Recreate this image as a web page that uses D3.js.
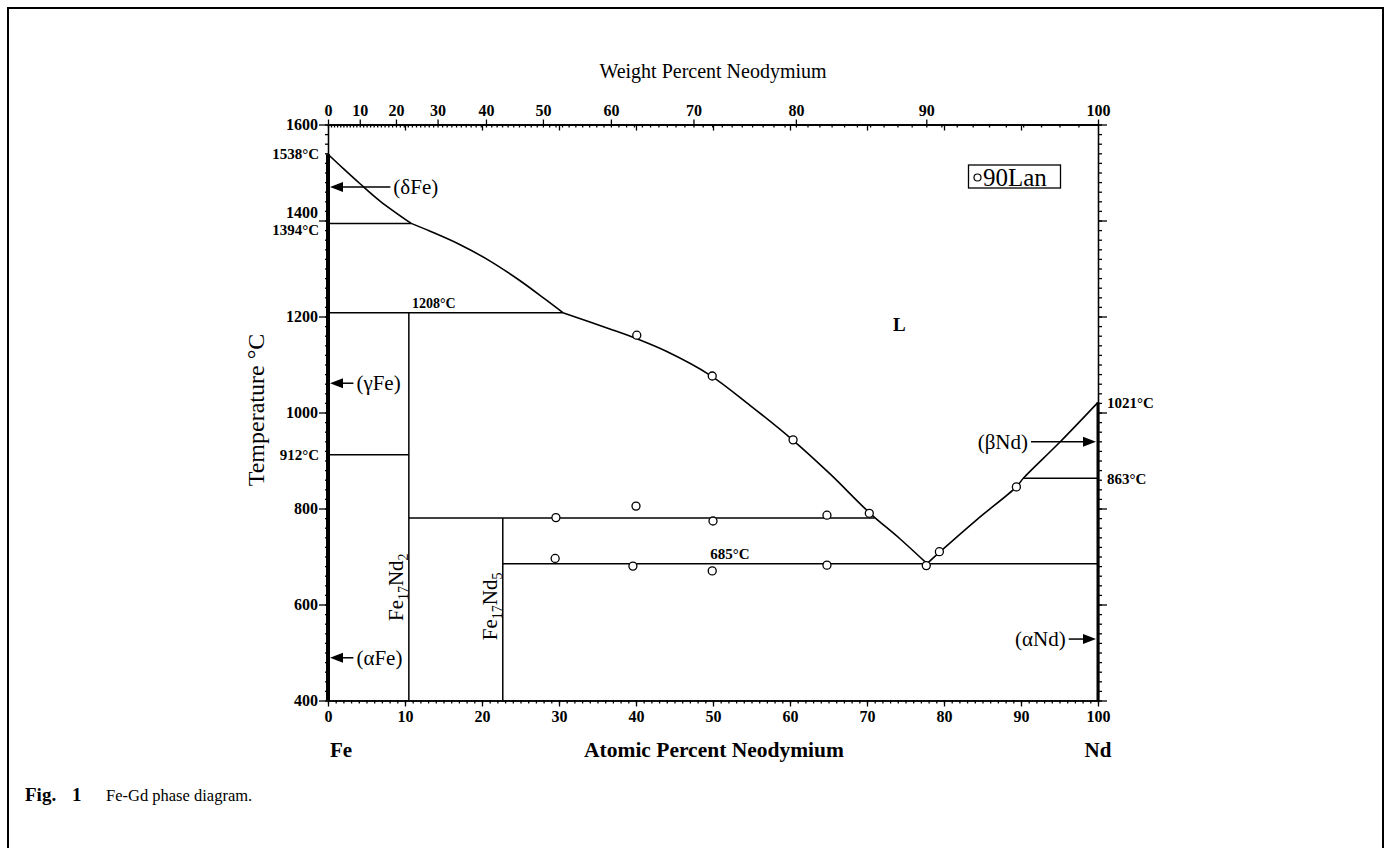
<!DOCTYPE html>
<html>
<head>
<meta charset="utf-8">
<script src="https://cdn.jsdelivr.net/npm/d3@7"></script>
<style>
  body { margin: 0; background: #fff; }
  text { font-family: "Liberation Serif", "Times New Roman", serif; fill: #000; }
</style>
</head>
<body>
<svg id="chart" width="1390" height="848"></svg>
<script>
// Fe-Nd phase diagram (at% Nd, deg C)

const deltaLiquidus = [[0, 1538], [2.0, 1508], [4.2, 1476], [6.8, 1440], [10.8, 1394]];
const gammaLiquidus = [[10.8, 1394], [13.2, 1378], [17.1, 1350], [21.0, 1316], [24.9, 1275], [28.2, 1236], [30.5, 1208]];
const feRichLiquidus = [[30.5, 1208], [36.6, 1174], [40.2, 1153], [44.0, 1127], [49.6, 1078], [54.8, 1015],
                        [60.4, 942], [65.2, 872], [70.4, 790], [74.2, 738], [77.8, 685]];
const ndRichLiquidus = [[77.8, 685], [79.5, 710], [84.2, 776], [89.4, 845], [90.3, 863], [95.1, 939], [100, 1021]];

// invariant (horizontal) lines
const isoFrom = [0, 0, 0, 10.5, 22.7, 90.3];
const isoTo   = [10.8, 30.5, 10.5, 71.0, 100, 100];
const isoTemp = [1394, 1208, 912, 780, 685, 863];

// compounds Fe17Nd2 and Fe17Nd5
const compAt = [10.5, 22.7];
const compTop = [1208, 780];
const compSub = [["17", "2"], ["17", "5"]];

// 90Lan data points
const lanAt = [29.6, 40.0, 50.0, 64.8, 70.3, 29.5, 39.6, 49.9, 64.8, 40.1, 49.9, 60.4, 89.4, 79.4, 77.7];
const lanT  = [781, 805, 774, 786, 790, 696, 680, 670, 682, 1161, 1076, 943, 845, 710, 681];

// phase labels on the pure-element sides
const feLabels = ["(δFe)", "(γFe)", "(αFe)"];
const feTemps = [1470, 1061, 489];
const ndLabels = ["(βNd)", "(αNd)"];
const ndTemps = [939, 528];

// axis ticks
const atTicks = d3.range(0, 101, 10);
const wtTicks = d3.range(0, 101, 10);
const tempTicks = d3.range(400, 1601, 200);

const FE = 55.845, ND = 144.24;
function wtToAt(w) {
    if (w >= 100) return 100;
    var n = w / ND, f = (100 - w) / FE;
    return 100 * n / (n + f);
}

const svg = d3.select("#chart");

var x = d3.scaleLinear().domain([0, 100]).range([328, 1098]);
var y = d3.scaleLinear().domain([400, 1600]).range([700.5, 124.5]);

// figure border
svg.append("path")
    .attr("d", "M8,860V8H1383V860")
    .attr("fill", "none")
    .attr("stroke", "black")
    .attr("stroke-width", 2);

// ---- axes ----
function styleAxis(g) {
    g.attr("font-size", 16).attr("font-family", '"Liberation Serif", serif').attr("font-weight", "bold");
    g.selectAll("path,line").attr("stroke", "black").attr("stroke-width", 1.3);
    g.selectAll("text").attr("fill", "black");
}

// bottom
svg.append("g")
    .attr("transform", "translate(0," + y(400) + ")")
    .call(d3.axisBottom(x).tickValues(d3.range(0, 101, 1)).tickSize(3).tickSizeOuter(0).tickFormat(""))
    .call(styleAxis);
svg.append("g")
    .attr("transform", "translate(0," + y(400) + ")")
    .call(d3.axisBottom(x).tickValues(atTicks).tickSize(6).tickSizeOuter(0).tickPadding(4))
    .call(styleAxis);

// top (weight percent)
svg.append("g")
    .attr("transform", "translate(0," + y(1600) + ")")
    .call(d3.axisTop(x).tickValues(wtTicks.map(wtToAt)).tickSize(5).tickSizeOuter(0).tickPadding(4)
        .tickFormat((d, i) => wtTicks[i]))
    .call(styleAxis);
svg.append("g")
    .attr("transform", "translate(0," + y(1600) + ")")
    .call(d3.axisBottom(x).tickValues(d3.range(0, 100, 1).map(wtToAt)).tickSize(3).tickSizeOuter(0).tickFormat(""))
    .call(styleAxis);
svg.append("g")
    .attr("transform", "translate(0," + y(1600) + ")")
    .call(d3.axisBottom(x).tickValues(atTicks.slice(1, 10)).tickSize(6).tickSizeOuter(0).tickFormat(""))
    .call(styleAxis);

// left
svg.append("g")
    .attr("transform", "translate(" + x(0) + ",0)")
    .call(d3.axisLeft(y).tickValues(d3.range(400, 1601, 20)).tickSize(3).tickSizeOuter(0).tickFormat(""))
    .call(styleAxis);
svg.append("g")
    .attr("transform", "translate(" + x(0) + ",0)")
    .call(d3.axisLeft(y).tickValues(tempTicks).tickSize(9).tickSizeOuter(0).tickPadding(1).tickFormat(d3.format("d")))
    .call(styleAxis)
    .call(g => g.selectAll(".tick text").filter(d => d == 1400).attr("dy", "-0.2em"));

// right
svg.append("g")
    .attr("transform", "translate(" + x(100) + ",0)")
    .call(d3.axisRight(y).tickValues(d3.range(400, 1601, 20)).tickSize(4).tickSizeOuter(0).tickFormat(""))
    .call(styleAxis);
svg.append("g")
    .attr("transform", "translate(" + x(100) + ",0)")
    .call(d3.axisRight(y).tickValues(tempTicks).tickSize(9).tickSizeOuter(0).tickFormat(""))
    .call(styleAxis);

// axis titles
svg.append("text").attr("x", 713).attr("y", 78).attr("text-anchor", "middle")
    .style("font-size", "20px").text("Weight Percent Neodymium");
svg.append("text").attr("x", 714).attr("y", 757).attr("text-anchor", "middle")
    .style("font-size", "21.5px").style("font-weight", "bold").text("Atomic Percent Neodymium");
svg.append("text").attr("x", x(0) + 13).attr("y", 757).attr("text-anchor", "middle")
    .style("font-size", "21px").style("font-weight", "bold").text("Fe");
svg.append("text").attr("x", x(100)).attr("y", 757).attr("text-anchor", "middle")
    .style("font-size", "21px").style("font-weight", "bold").text("Nd");
svg.append("text").attr("transform", "translate(264,410) rotate(-90)").attr("text-anchor", "middle")
    .style("font-size", "24px").text("Temperature °C");

// caption
var cap = svg.append("text").attr("x", 25).attr("y", 801).style("font-size", "16.5px");
cap.append("tspan").style("font-weight", "bold").style("font-size", "19px").text("Fig.");
cap.append("tspan").attr("x", 72).style("font-weight", "bold").style("font-size", "19px").text("1");
cap.append("tspan").attr("x", 106).text("Fe-Gd phase diagram.");

// ---- phase boundaries ----
var line = d3.line().x(d => x(d[0])).y(d => y(d[1])).curve(d3.curveCatmullRom);
var plot = svg.append("g");

[deltaLiquidus, gammaLiquidus, feRichLiquidus, ndRichLiquidus].forEach(function(seg) {
    plot.append("path").datum(seg).attr("d", line)
        .attr("fill", "none").attr("stroke", "black").attr("stroke-width", 1.6);
});

plot.selectAll("isotherms")
    .data(isoTemp)
    .enter()
    .append("line")
    .attr("x1", (d, i) => x(isoFrom[i]))
    .attr("x2", (d, i) => x(isoTo[i]))
    .attr("y1", d => y(d))
    .attr("y2", d => y(d))
    .attr("stroke", "black")
    .attr("stroke-width", 1.5);

plot.selectAll("compLines")
    .data(compAt)
    .enter()
    .append("line")
    .attr("x1", d => x(d))
    .attr("x2", d => x(d))
    .attr("y1", (d, i) => y(compTop[i]))
    .attr("y2", y(400))
    .attr("stroke", "black")
    .attr("stroke-width", 1.5);

// terminal solid solutions along the element axes
plot.append("line")
    .attr("x1", x(0)).attr("x2", x(0)).attr("y1", y(1538)).attr("y2", y(400))
    .attr("stroke", "black").attr("stroke-width", 4);
plot.append("line")
    .attr("x1", x(100)).attr("x2", x(100)).attr("y1", y(1021)).attr("y2", y(400))
    .attr("stroke", "black").attr("stroke-width", 3);

// compound labels, rotated
var compLabelT = [636, 596];
compAt.forEach(function(a, i) {
    var t = plot.append("text")
        .attr("transform", "translate(" + (x(a) - 6) + "," + y(compLabelT[i]) + ") rotate(-90)")
        .attr("text-anchor", "middle")
        .style("font-size", "21px");
    t.append("tspan").text("Fe");
    t.append("tspan").attr("dy", 5).style("font-size", "14px").text(compSub[i][0]);
    t.append("tspan").attr("dy", -5).text("Nd");
    t.append("tspan").attr("dy", 5).style("font-size", "14px").text(compSub[i][1]);
});

// temperature annotations
function note(txt, px, py, anchor, size) {
    plot.append("text").attr("x", px).attr("y", py).attr("text-anchor", anchor || "start")
        .style("font-size", (size || 15) + "px").style("font-weight", "bold").text(txt);
}
note("1538°C", x(0) - 9, y(1538) + 5, "end");
note("1394°C", x(0) - 9, y(1394) + 12, "end");
note("912°C", x(0) - 9, y(912) + 5, "end");
note("1021°C", x(100) + 9, y(1021) + 6, "start");
note("863°C", x(100) + 9, y(863) + 6, "start");
note("1208°C", x(10.9), y(1208) - 5, "start", 14);
note("685°C", x(52.2), y(685) - 5, "middle", 15);
note("L", x(74.2), y(1170), "middle", 19);

// arrows to the element axes
function arrow(x1, x2, py) {
    var dir = x2 > x1 ? 1 : -1;
    plot.append("line").attr("x1", x1).attr("x2", x2 - dir * 10).attr("y1", py).attr("y2", py)
        .attr("stroke", "black").attr("stroke-width", 1.5);
    plot.append("path")
        .attr("d", "M" + x2 + "," + py + "L" + (x2 - dir * 13) + "," + (py - 5) + "L" + (x2 - dir * 13) + "," + (py + 5) + "Z")
        .attr("fill", "black");
}
var feArrowEnd = [x(8.1), x(3.3), x(3.3)];
feLabels.forEach(function(lbl, i) {
    arrow(feArrowEnd[i], x(0) + 2, y(feTemps[i]));
    plot.append("text").attr("x", feArrowEnd[i] + 3).attr("y", y(feTemps[i]) + 7)
        .style("font-size", "21px").text(lbl);
});
var ndArrowStart = [x(91.3), x(96.2)];
ndLabels.forEach(function(lbl, i) {
    arrow(ndArrowStart[i], x(100) - 2, y(ndTemps[i]));
    plot.append("text").attr("x", ndArrowStart[i] - 3).attr("y", y(ndTemps[i]) + 7)
        .attr("text-anchor", "end").style("font-size", "21px").text(lbl);
});

// 90Lan points
plot.selectAll("lanPoints")
    .data(lanAt)
    .enter()
    .append("circle")
    .attr("cx", d => x(d))
    .attr("cy", (d, i) => y(lanT[i]))
    .attr("r", 4)
    .style("fill", "white")
    .attr("stroke", "black")
    .attr("stroke-width", 1.3);

// legend
var leg = svg.append("g");
leg.append("rect").attr("x", 968.5).attr("y", 165).attr("width", 92).attr("height", 23)
    .attr("fill", "white").attr("stroke", "black").attr("stroke-width", 1.3);
leg.append("circle").attr("cx", 977.5).attr("cy", 177.5).attr("r", 3.5)
    .style("fill", "white").attr("stroke", "black").attr("stroke-width", 1.2);
leg.append("text").attr("x", 983).attr("y", 186).style("font-size", "25px").text("90Lan");
</script>
</body>
</html>
